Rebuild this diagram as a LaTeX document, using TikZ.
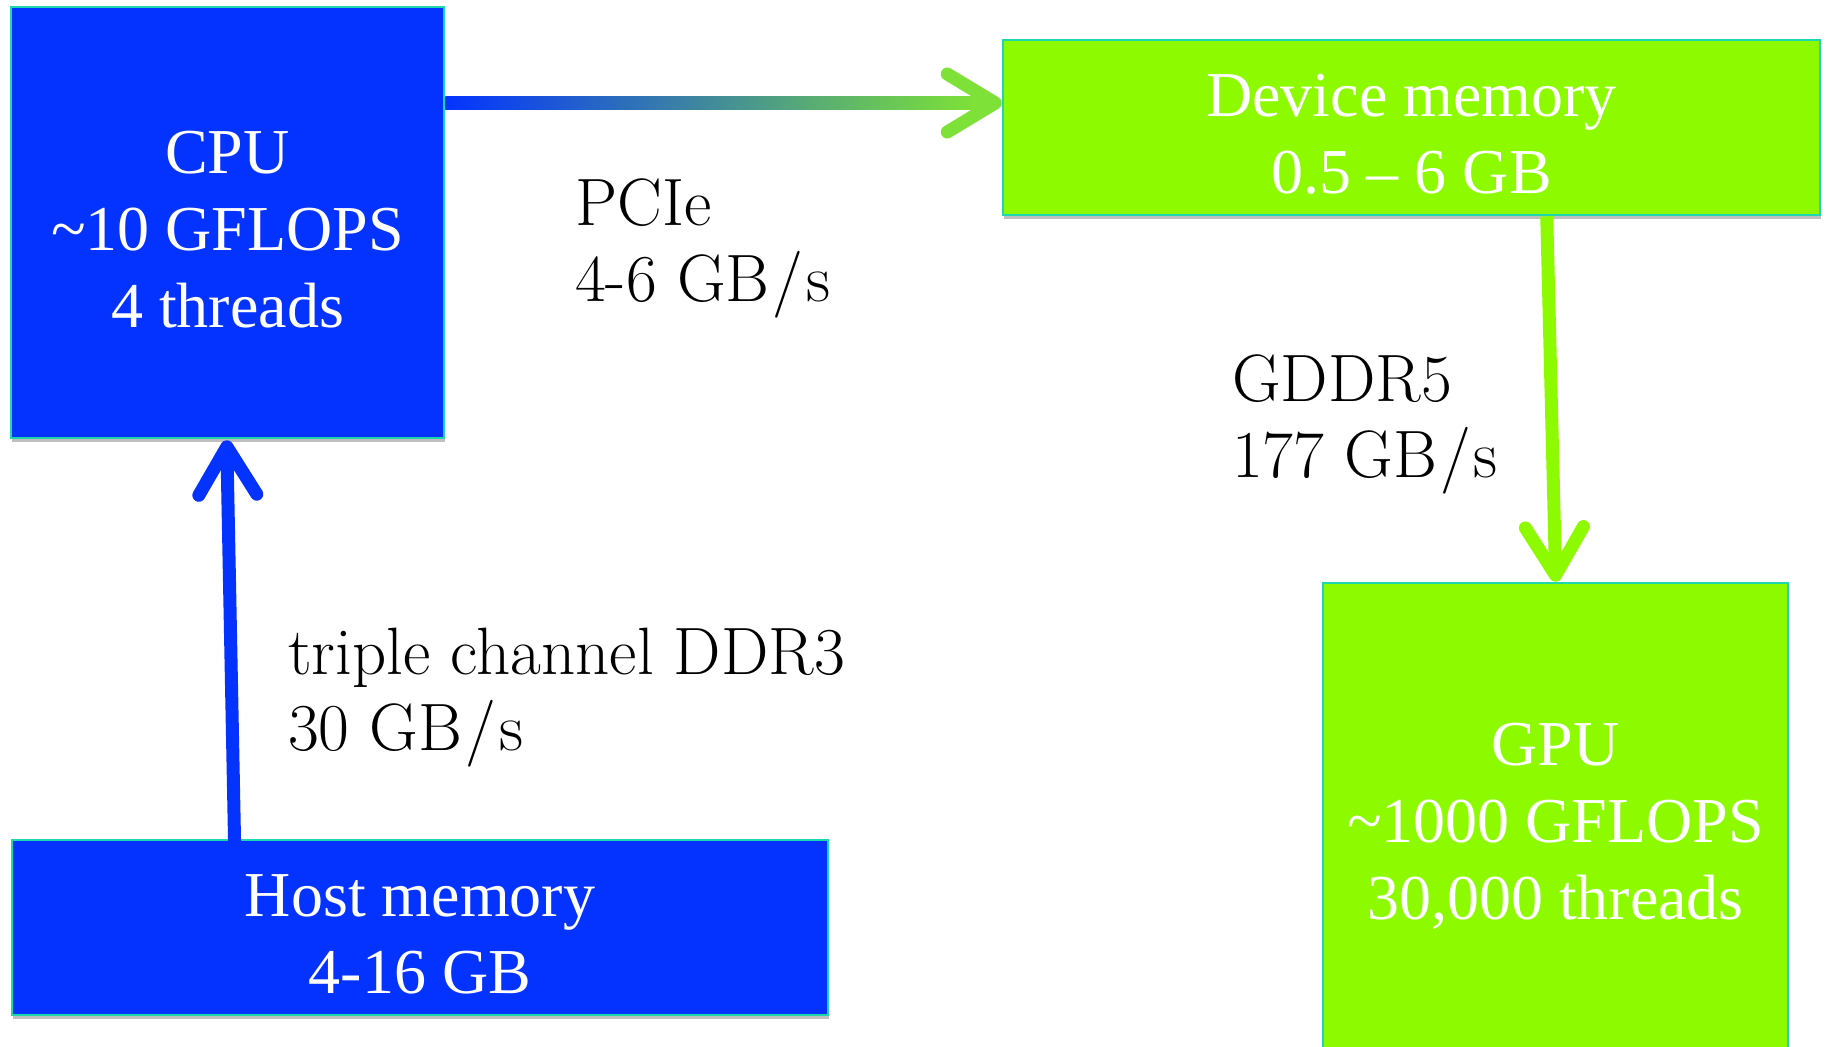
\documentclass[tikz,border=0pt]{standalone}
\usepackage{fontspec}
\newfontfamily\boxfont{Liberation Serif}
\newcommand\topgap{\rule{0pt}{56pt}}
\usetikzlibrary{arrows.meta,shadows,calc}
\definecolor{hostblue}{RGB}{4,51,255}
\definecolor{devgreen}{RGB}{142,250,0}
\definecolor{edgecyan}{RGB}{30,215,175}
\definecolor{pcigreen}{RGB}{125,225,55}
\begin{document}
\begin{tikzpicture}[x=1pt,y=-1pt,
  box/.style={draw=edgecyan, line width=2.5pt, inner sep=0pt, text=white, align=center,
    font=\boxfont\fontsize{64}{77}\selectfont,
    drop shadow={shadow xshift=1pt, shadow yshift=-4pt, opacity=0.25, fill=black}},
  conn/.style={line width=13pt, -{Straight Barb[length=48pt,width=58pt,round]}},
  lab/.style={anchor=base west, inner sep=0pt, font=\fontsize{67}{76}\selectfont}]
\fill[white] (0,0) rectangle (1829,1047);
\useasboundingbox (0,0) rectangle (1829,1047);

\node[box, fill=hostblue, minimum width=433pt, minimum height=431pt] (cpu) at (227.5,222.5)
  {\topgap CPU\\\textasciitilde10 GFLOPS\\4 threads};
\node[box, fill=devgreen, minimum width=817pt, minimum height=175pt] (dev) at (1411.5,127.5)
  {\topgap Device memory\\0.5 – 6 GB};
\node[box, fill=hostblue, minimum width=816pt, minimum height=175pt] (host) at (420,927.5)
  {\topgap Host memory\\4-16 GB};
\node[box, fill=devgreen, minimum width=465pt, minimum height=472pt] (gpu) at (1555.5,819)
  {\topgap GPU\\\textasciitilde1000 GFLOPS\\30,000 threads};

\coordinate (pcie) at (0,103);
\draw[conn, draw=pcigreen] (cpu.east |- pcie) -- (dev.west |- pcie);
\shade[left color=hostblue, right color=pcigreen]
  ($(cpu.east |- pcie)+(0,-6.5)$) rectangle ($(dev.west |- pcie)+(-30,6.5)$);
\draw[conn, draw=hostblue] ($(host.north west)+(224,13)$) -- ($(cpu.south west)+(217,1)$);
\draw[conn, draw=devgreen] ($(dev.south west)+(545,0)$) -- ($(gpu.north west)+(234,0)$);

\node[lab] (pcielab) at (575,225)
  {\begin{tabular}[t]{@{}l@{}}PCIe\\4-6 GB\kern3pt/\kern3pt s\end{tabular}};
\node[lab] (gddrlab) at (1232,401)
  {\begin{tabular}[t]{@{}l@{}}GDDR5\\177 GB\kern3pt/\kern3pt s\end{tabular}};
\node[lab] (ddrlab) at (288,674)
  {\begin{tabular}[t]{@{}l@{}}triple channel DDR3\\30 GB\kern3pt/\kern3pt s\end{tabular}};
\end{tikzpicture}
\end{document}
